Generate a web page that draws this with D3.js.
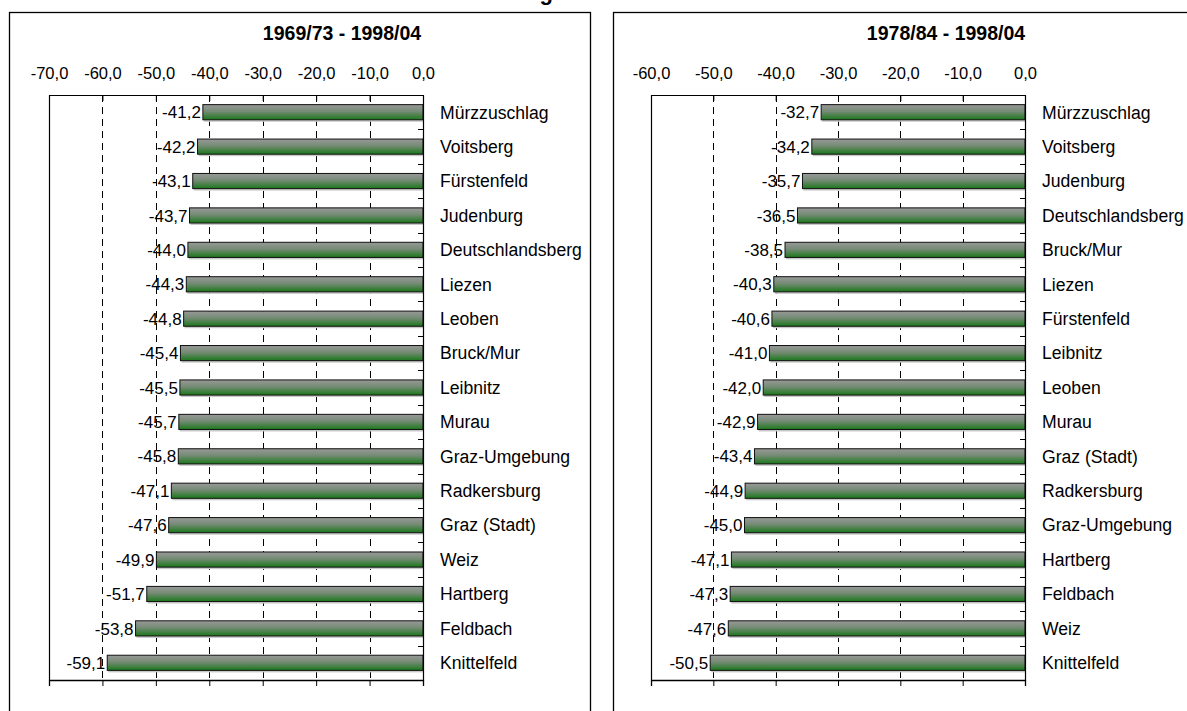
<!DOCTYPE html>
<meta charset="utf-8">
<style>
    body { margin: 0; background: #fff; }
    svg text { font-family: "Liberation Sans", Arial, sans-serif; fill: #000; }
    .tick-lbl { font-size: 16.5px; }
    .cat-lbl { font-size: 17.6px; }
    .val-lbl { font-size: 17px; }
    .sub-title { font-size: 19.5px; font-weight: bold; }
</style>
<svg id="chart" width="1187" height="711"></svg>
<script src="https://cdn.jsdelivr.net/npm/d3@7"></script>
<script>
    // left chart: 1969/73 - 1998/04
    const catsA = ["Mürzzuschlag", "Voitsberg", "Fürstenfeld", "Judenburg", "Deutschlandsberg", "Liezen", "Leoben",
        "Bruck/Mur", "Leibnitz", "Murau", "Graz-Umgebung", "Radkersburg", "Graz (Stadt)", "Weiz", "Hartberg",
        "Feldbach", "Knittelfeld"];
    const valsA = [-41.2, -42.2, -43.1, -43.7, -44.0, -44.3, -44.8, -45.4, -45.5, -45.7, -45.8, -47.1, -47.6,
        -49.9, -51.7, -53.8, -59.1];
    const ticksA = [-70, -60, -50, -40, -30, -20, -10, 0];

    // right chart: 1978/84 - 1998/04
    const catsB = ["Mürzzuschlag", "Voitsberg", "Judenburg", "Deutschlandsberg", "Bruck/Mur", "Liezen", "Fürstenfeld",
        "Leibnitz", "Leoben", "Murau", "Graz (Stadt)", "Radkersburg", "Graz-Umgebung", "Hartberg", "Feldbach",
        "Weiz", "Knittelfeld"];
    const valsB = [-32.7, -34.2, -35.7, -36.5, -38.5, -40.3, -40.6, -41.0, -42.0, -42.9, -43.4, -44.9, -45.0,
        -47.1, -47.3, -47.6, -50.5];
    const ticksB = [-60, -50, -40, -30, -20, -10, 0];

    const svg = d3.select("#chart");
    const fmt = v => d3.format(".1f")(v).replace(".", ",").replace("−", "-");

    // gradient for the bars: grey on top, green at the bottom
    const grad = svg.append("defs").append("linearGradient")
        .attr("id", "barGrad").attr("x1", 0).attr("y1", 0).attr("x2", 0).attr("y2", 1);
    grad.append("stop").attr("offset", "0%").attr("stop-color", "#999999");
    grad.append("stop").attr("offset", "45%").attr("stop-color", "#758b75");
    grad.append("stop").attr("offset", "100%").attr("stop-color", "#1a771a");

    // figure title (mostly above the visible area)
    svg.append("text")
        .attr("x", 553).attr("y", 0)
        .attr("text-anchor", "end")
        .style("font-size", "22px").style("font-weight", "bold")
        .text("Veränderung");

    drawPanel(9, "1969/73 - 1998/04", catsA, valsA, ticksA, 49, 423);
    drawPanel(613, "1978/84 - 1998/04", catsB, valsB, ticksB, 651, 1025);

    function drawPanel(px, title, cats, vals, ticks, x0, x1) {
        const top = 95, bottom = 680;
        const g = svg.append("g");

        // panel frame
        g.append("rect")
            .attr("x", px + 0.5).attr("y", 12.5)
            .attr("width", 581).attr("height", 760)
            .attr("fill", "none").attr("stroke", "#000").attr("stroke-width", 1.3);

        g.append("text").attr("class", "sub-title")
            .attr("x", px + 333).attr("y", 40)
            .attr("text-anchor", "middle")
            .text(title);

        const x = d3.scaleLinear().domain([ticks[0], 0]).range([x0, x1]);
        const y = d3.scaleBand().domain(cats).range([top, bottom]).paddingInner(0.56).paddingOuter(0.28);
        const yb = d3.scaleBand().domain(cats).range([top, bottom]);

        // dashed gridlines
        g.append("g").selectAll("line")
            .data(ticks.slice(1, -1))
            .join("line")
            .attr("x1", d => Math.round(x(d)) + 0.5).attr("x2", d => Math.round(x(d)) + 0.5)
            .attr("y1", top).attr("y2", bottom)
            .attr("stroke", "#000").attr("stroke-dasharray", "7,5");

        // top axis
        const axTop = g.append("g")
            .attr("transform", `translate(0,${top})`)
            .call(d3.axisTop(x).tickValues(ticks).tickSize(-6).tickFormat(fmt));
        axTop.attr("font-family", null).attr("font-size", null);
        axTop.select(".domain").attr("stroke", "#000");
        axTop.selectAll("text").attr("class", "tick-lbl").attr("y", -16).attr("dy", 0);
        axTop.selectAll(".tick line").attr("stroke", "#000");

        // bottom axis
        const axBot = g.append("g")
            .attr("transform", `translate(0,${bottom})`)
            .call(d3.axisBottom(x).tickValues(ticks).tickSize(6).tickFormat(""));
        axBot.select(".domain").attr("stroke", "#000").attr("stroke-width", 1.3);

        // left frame line
        g.append("line")
            .attr("x1", x0 + 0.5).attr("x2", x0 + 0.5).attr("y1", top).attr("y2", bottom)
            .attr("stroke", "#000").attr("stroke-width", 1.2);

        // bar shadows
        g.append("g").selectAll("rect")
            .data(vals)
            .join("rect")
            .attr("x", d => x(d) + 1).attr("y", (d, i) => y(cats[i]) + 2)
            .attr("width", d => x(0) - x(d)).attr("height", y.bandwidth())
            .attr("fill", "#c8c8c8");

        // bars
        g.append("g").selectAll("rect")
            .data(vals)
            .join("rect")
            .attr("x", d => x(d)).attr("y", (d, i) => y(cats[i]))
            .attr("width", d => x(0) - x(d)).attr("height", y.bandwidth())
            .attr("fill", "url(#barGrad)").attr("stroke", "#111").attr("stroke-width", 1);

        // zero axis with category ticks
        const axY = g.append("g")
            .attr("transform", `translate(${x1},0)`)
            .call(d3.axisLeft(yb).tickSize(0).tickFormat(""));
        axY.select(".domain").attr("stroke", "#000").attr("stroke-width", 1.2);
        g.append("g").selectAll("line")
            .data(cats.slice(1))
            .join("line")
            .attr("x1", x1 - 5).attr("x2", x1)
            .attr("y1", d => Math.round(yb(d)) + 0.5).attr("y2", d => Math.round(yb(d)) + 0.5)
            .attr("stroke", "#000");

        // value labels
        g.append("g").selectAll("text")
            .data(vals)
            .join("text")
            .attr("class", "val-lbl")
            .attr("x", d => x(d) - 2).attr("y", (d, i) => y(cats[i]) + y.bandwidth() / 2)
            .attr("dy", "0.36em").attr("text-anchor", "end")
            .text(fmt);

        // category labels
        g.append("g").selectAll("text")
            .data(cats)
            .join("text")
            .attr("class", "cat-lbl")
            .attr("x", x1 + 17).attr("y", d => y(d) + y.bandwidth() / 2)
            .attr("dy", "0.36em")
            .text(d => d);
    }
</script>
